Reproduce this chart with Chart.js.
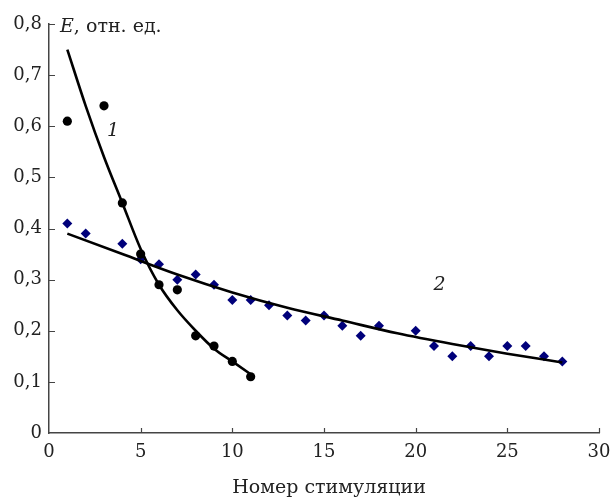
<!DOCTYPE html>
<html>
<head>
<meta charset="utf-8">
<script src="https://cdn.jsdelivr.net/npm/chart.js@4"></script>
<style>
  html, body { margin: 0; padding: 0; background: #fff; }
  #wrap { width: 613px; height: 500px; }
</style>
</head>
<body>
<div id="wrap"><canvas id="stimChart"></canvas></div>
<script>
// Series 1 (black circles)
const x1 = [1, 3, 4, 5, 6, 7, 8, 9, 10, 11];
const y1 = [0.61, 0.64, 0.45, 0.35, 0.29, 0.28, 0.19, 0.17, 0.14, 0.11];

// Series 2 (blue diamonds)
const x2 = [1, 2, 4, 5, 6, 7, 8, 9, 10, 11, 12, 13, 14, 15, 16, 17, 18, 20, 21, 22, 23, 24, 25, 26, 27, 28];
const y2 = [0.41, 0.39, 0.37, 0.34, 0.33, 0.30, 0.31, 0.29, 0.26, 0.26, 0.25, 0.23, 0.22, 0.23, 0.21, 0.19, 0.21, 0.20, 0.17, 0.15, 0.17, 0.15, 0.17, 0.17, 0.15, 0.14];

// Trend curves
const fitX1 = [1, 2, 3, 4, 5, 6, 7, 8, 9, 10, 11];
const fitY1 = [0.75, 0.64, 0.54, 0.45, 0.36, 0.29, 0.24, 0.20, 0.165, 0.14, 0.115];
const fitX2 = [1, 4, 7, 10, 13, 16, 19, 22, 25, 28];
const fitY2 = [0.39, 0.35, 0.31, 0.275, 0.245, 0.22, 0.195, 0.174, 0.155, 0.138];

const xTicks = [0, 5, 10, 15, 20, 25, 30];
const yTicks = [0, 0.1, 0.2, 0.3, 0.4, 0.5, 0.6, 0.7, 0.8];

const curveLabels = [{ text: '1', x: 3.5, y: 0.59 }, { text: '2', x: 21.3, y: 0.29 }];

const serif = '"DejaVu Serif", "Liberation Serif", serif';
const axisColor = '#444';
const textColor = '#222';

const pts = (xs, ys) => xs.map((x, i) => ({ x: x, y: ys[i] }));

const extras = {
	id: 'extras',
	afterDraw(chart) {
		const c = chart.ctx;
		const xs = chart.scales.x, ys = chart.scales.y;
		const area = chart.chartArea;
		c.save();
		// inward tick marks
		c.strokeStyle = axisColor;
		c.lineWidth = 1.2;
		c.beginPath();
		xTicks.forEach(v => {
			if (v === 0) return;
			const px = Math.round(xs.getPixelForValue(v)) + 0.5;
			c.moveTo(px, area.bottom);
			c.lineTo(px, area.bottom - 5);
		});
		yTicks.forEach(v => {
			if (v === 0) return;
			const py = Math.round(ys.getPixelForValue(v)) + 0.5;
			c.moveTo(area.left, py);
			c.lineTo(area.left + 6, py);
		});
		c.stroke();

		c.fillStyle = textColor;
		c.textBaseline = 'middle';
		// y axis title
		const ty = ys.getPixelForValue(0.8) + 3;
		c.textAlign = 'left';
		c.font = 'italic 19px ' + serif;
		c.fillText('E', area.left + 11, ty);
		const ew = c.measureText('E').width;
		c.font = '19px ' + serif;
		c.fillText(', отн. ед.', area.left + 11 + ew, ty);

		// x axis title
		c.textAlign = 'center';
		c.font = '19px ' + serif;
		c.fillText('Номер стимуляции', 329, 488);

		// curve numbers
		c.font = 'italic 19px ' + serif;
		curveLabels.forEach(l => {
			c.fillText(l.text, xs.getPixelForValue(l.x), ys.getPixelForValue(l.y));
		});
		c.restore();
	}
};

new Chart(document.getElementById('stimChart'), {
	type: 'scatter',
	data: {
		datasets: [
			{
				data: pts(fitX1, fitY1),
				showLine: true,
				borderColor: '#000',
				borderWidth: 2.6,
				pointRadius: 0,
				cubicInterpolationMode: 'monotone',
				order: 0
			},
			{
				data: pts(fitX2, fitY2),
				showLine: true,
				borderColor: '#000',
				borderWidth: 2.6,
				pointRadius: 0,
				cubicInterpolationMode: 'monotone',
				order: 0
			},
			{
				data: pts(x1, y1),
				pointStyle: 'circle',
				pointRadius: 4.6,
				backgroundColor: '#000',
				borderColor: '#000',
				borderWidth: 0,
				order: 1
			},
			{
				data: pts(x2, y2),
				pointStyle: 'rectRot',
				pointRadius: 5,
				backgroundColor: '#00007a',
				borderColor: '#00007a',
				borderWidth: 0,
				order: 2
			}
		]
	},
	options: {
		responsive: true,
		maintainAspectRatio: false,
		animation: false,
		events: [],
		layout: { padding: { top: 24, right: 14, left: 0, bottom: 0 } },
		plugins: {
			legend: { display: false },
			tooltip: { enabled: false }
		},
		scales: {
			x: {
				type: 'linear',
				min: 0,
				max: 30,
				afterFit(scale) {
					scale.height = 67;
					scale.paddingLeft = 0;
					scale.paddingRight = 0;
				},
				afterBuildTicks(scale) { scale.ticks = xTicks.map(v => ({ value: v })); },
				grid: { display: false, drawTicks: false },
				border: { display: true, color: axisColor, width: 1.5 },
				ticks: {
					padding: 9,
					color: textColor,
					font: { family: serif, size: 18 },
					maxRotation: 0
				}
			},
			y: {
				type: 'linear',
				min: 0,
				max: 0.8,
				afterFit(scale) {
					scale.width = 49;
					scale.paddingTop = 0;
					scale.paddingBottom = 0;
				},
				afterBuildTicks(scale) { scale.ticks = yTicks.map(v => ({ value: v })); },
				grid: { display: false, drawTicks: false },
				border: { display: true, color: axisColor, width: 1.5 },
				ticks: {
					padding: 7,
					color: textColor,
					font: { family: serif, size: 18 },
					callback: v => v === 0 ? '0' : v.toFixed(1).replace('.', ',')
				}
			}
		}
	},
	plugins: [extras]
});
</script>
</body>
</html>
